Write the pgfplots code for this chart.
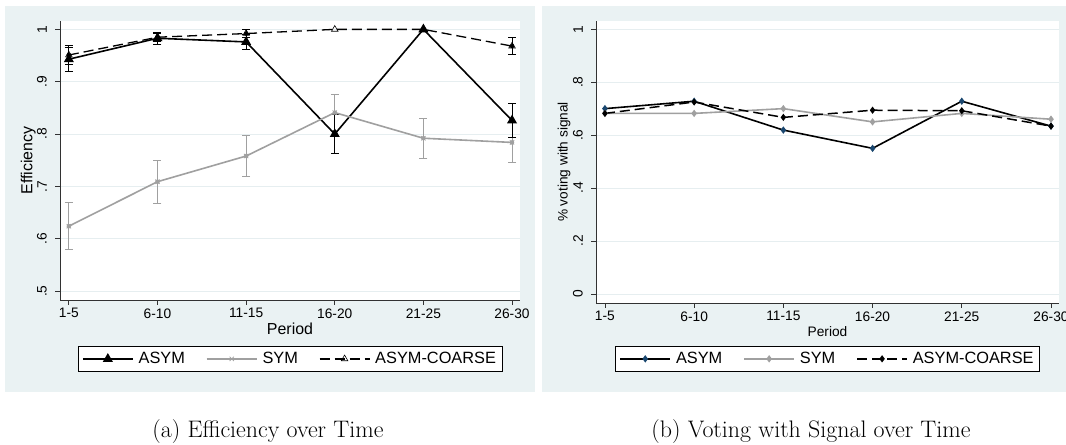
\documentclass[border=0pt]{standalone}
\usepackage{pgfplots}
\usepackage{pgfplotstable}
\pgfplotsset{compat=1.18}
\usepackage{fontspec}
\newfontfamily\arial{Liberation Sans}

\definecolor{stbg}{RGB}{234,242,243}
\definecolor{stgrid}{RGB}{230,238,240}
\definecolor{stgray}{RGB}{160,160,160}
\definecolor{stnavy}{RGB}{26,71,111}
\definecolor{staxis}{RGB}{50,50,50}

% efficiency, with half-widths of the error bars
\pgfplotstableread{
x asym asymE sym symE coarse coarseE
0 0.943 0.023 0.624 0.045 0.951 0.018
1 0.983 0.011 0.709 0.041 0.985 0.008
2 0.976 0.015 0.758 0.039 0.992 0.007
3 0.800 0.038 0.841 0.034 1.000 0
4 1.000 0     0.792 0.038 1.000 0
5 0.826 0.033 0.784 0.039 0.968 0.016
}\effdata

% share voting with signal
\pgfplotstableread{
x asym sym coarse
0 0.700 0.682 0.682
1 0.728 0.682 0.725
2 0.619 0.700 0.667
3 0.550 0.650 0.694
4 0.728 0.682 0.692
5 0.634 0.660 0.634
}\votedata

\pgfplotsset{
  stata/.style={
    scale only axis,
    xmin=-0.1, xmax=5.09,
    axis x line*=bottom, axis y line*=left,
    axis line style={staxis, line width=0.8bp},
    axis background/.style={fill=white},
    xtick={0,...,5},
    xticklabels={1-5,6-10,11-15,16-20,21-25,26-30},
    tick align=outside, major tick length=5bp,
    tick style={staxis, line width=0.8bp},
    ticklabel style={font=\arial\fontsize{13.8}{16}\selectfont, text=black},
    yticklabel style={rotate=90, anchor=south, inner sep=0bp, inner ysep=8bp},
    ymajorgrids, major grid style={stgrid, line width=0.8bp},
    xlabel={Period},
    every axis x label/.style={at={(axis description cs:0.5,-0.103)}, anchor=center},
    every axis y label/.style={at={(axis description cs:-0.069,0.5)}, anchor=center, rotate=90},
    legend columns=3,
    legend style={at={(0.5,-0.1525)}, anchor=north, draw=black, line width=0.8bp,
      fill=white, font=\arial\fontsize{16.4}{19}\selectfont,
      inner xsep=4bp, inner ysep=4bp,
      /tikz/every odd column/.append style={column sep=3bp},
      /tikz/every even column/.append style={column sep=19bp}},
    legend image code/.code={\draw[mark repeat=2,mark phase=2,##1] plot coordinates {(0bp,0bp) (25bp,0bp) (50bp,0bp)};},
  },
  ebar/.style={forget plot, only marks, mark=none, #1,
    error bars/y dir=both, error bars/y explicit,
    error bars/error bar style={#1, line width=1bp},
    error bars/error mark options={#1, rotate=90, mark size=4bp, line width=1bp}},
}

\begin{document}
\begin{tikzpicture}[x=1bp, y=1bp]
\path[use as bounding box] (0,0) rectangle (1066,445);
\fill[stbg] (5,53) rectangle (535,439);
\fill[stbg] (542,53) rectangle (1066,439);

\begin{axis}[stata, at={(60bp,145bp)}, anchor=south west, width=460bp, height=279bp,
  ymin=0.483, ymax=1.016,
  ytick={0.5,0.6,0.7,0.8,0.9,1}, yticklabels={.5,.6,.7,.8,.9,1},
  ylabel={Efficiency},
  xlabel style={font=\arial\fontsize{16}{19}\selectfont},
  ylabel style={font=\arial\fontsize{16}{19}\selectfont},
  legend style={at={(0.5,-0.165)}}]
\addplot[ebar=stgray] table[x=x, y=sym, y error=symE] {\effdata};
\addplot[ebar=black, skip coords between index={4}{5}] table[x=x, y=asym, y error=asymE] {\effdata};
\addplot[ebar=black, skip coords between index={3}{5}] table[x=x, y=coarse, y error=coarseE] {\effdata};
\addplot[black, line width=1.6bp, mark=triangle*, mark size=4.2bp, mark options={solid}] table[x=x, y=asym] {\effdata};
\addlegendentry{ASYM}
\addplot[stgray, line width=1.6bp, mark=x, mark size=3bp, mark options={solid, line width=0.8bp}] table[x=x, y=sym] {\effdata};
\addlegendentry{SYM}
\addplot[black, line width=1.3bp, dash pattern=on 10bp off 5bp, mark=triangle, mark size=3.8bp, mark options={solid, line width=0.6bp, fill=white}] table[x=x, y=coarse] {\effdata};
\addlegendentry{ASYM-COARSE}
\end{axis}

\begin{axis}[stata, at={(596bp,142bp)}, anchor=south west, width=463bp, height=282bp,
  ymin=-0.034, ymax=1.031,
  ytick={0,0.2,0.4,0.6,0.8,1}, yticklabels={0,.2,.4,.6,.8,1},
  ylabel={\% voting with signal},
  xlabel style={font=\arial\fontsize{13.8}{16}\selectfont},
  ylabel style={font=\arial\fontsize{13.7}{16}\selectfont}]
\addplot[black, line width=1.6bp, mark=diamond*, mark size=2.4bp, mark options={solid, fill=stnavy, draw=stnavy}] table[x=x, y=asym] {\votedata};
\addlegendentry{ASYM}
\addplot[stgray, line width=1.6bp, mark=diamond*, mark size=2.4bp, mark options={solid}] table[x=x, y=sym] {\votedata};
\addlegendentry{SYM}
\addplot[black, line width=1.5bp, dash pattern=on 10bp off 5bp, mark=diamond*, mark size=2.4bp, mark options={solid}] table[x=x, y=coarse] {\votedata};
\addlegendentry{ASYM-COARSE}
\end{axis}

\node[font=\fontsize{24}{29}\selectfont, anchor=base] at (268,7) {(a)\ Efficiency over Time};
\node[font=\fontsize{24}{29}\selectfont, anchor=base] at (811,7) {(b)\ Voting with Signal over Time};
\end{tikzpicture}
\end{document}
